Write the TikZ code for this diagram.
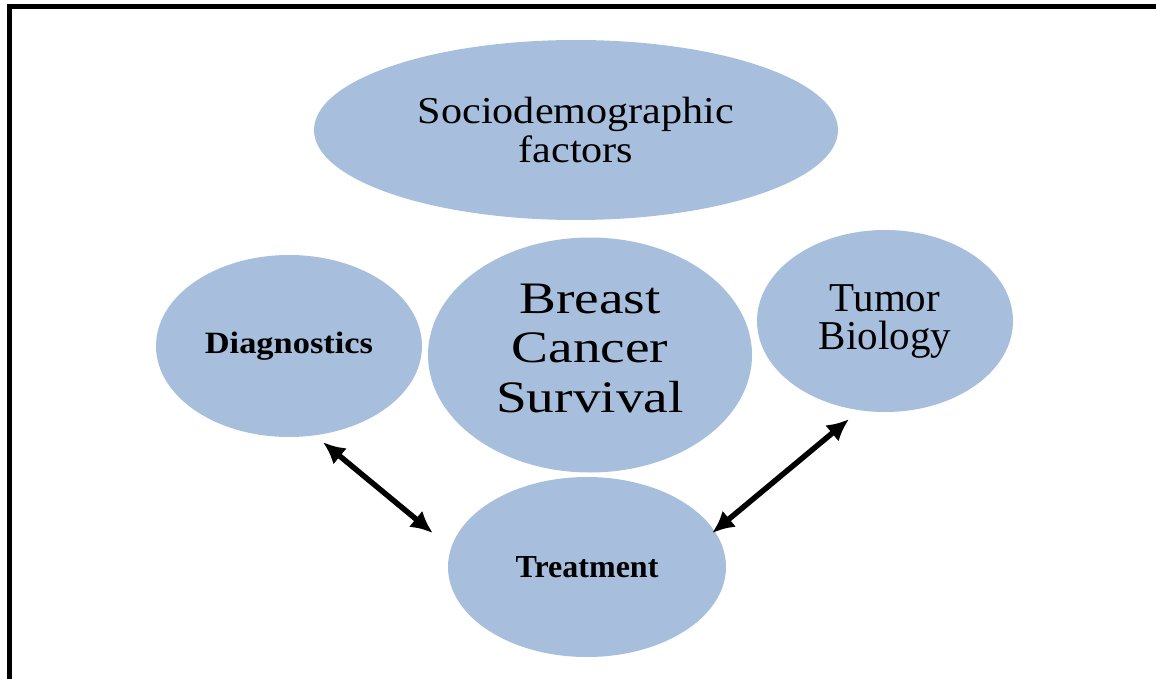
\documentclass[tikz,border=0pt]{standalone}
\usepackage{fontspec}
\setmainfont{Liberation Serif}
\newfontfamily\wideserif{Liberation Serif}[FakeStretch=1.23]
\newfontfamily\midserif{Liberation Serif}[FakeStretch=1.11]
\usetikzlibrary{shapes.geometric,arrows.meta}
\definecolor{bubblefill}{RGB}{167,191,221}

\begin{document}
\begin{tikzpicture}[x=1bp, y=-1bp]
    \tikzstyle{bubble}=[ellipse, fill=bubblefill, inner sep=0pt, align=center]
    \tikzstyle{darrs}=[line width=5.5bp, {Latex[length=22bp,width=21bp]}-{Latex[length=22bp,width=21bp]}]

    \clip (0,0) rectangle (1156,679);
    \draw[line width=4.5bp] (9.5,6.5) rectangle (1170,690);

    % factors around the centre
    \node[bubble, minimum width=524bp, minimum height=180bp,
          font={\midserif\fontsize{38bp}{39bp}\selectfont}] (socio) at (576,130)
        {Sociodemographic\\factors};
    \node[bubble, minimum width=324bp, minimum height=235bp, text depth=14bp,
          font={\wideserif\fontsize{45bp}{49.5bp}\selectfont}] (survival) at (590,355)
        {Breast\\Cancer\\Survival};
    \node[bubble, minimum width=266bp, minimum height=182bp,
          font={\midserif\bfseries\fontsize{31bp}{34bp}\selectfont}] (diag) at (289,346)
        {Diagnostics};
    \node[bubble, minimum width=256bp, minimum height=182bp,
          font={\fontsize{41bp}{38bp}\selectfont}] (tumor) at (885,321)
        {Tumor\\Biology};
    \node[bubble, minimum width=278bp, minimum height=180bp,
          font={\bfseries\fontsize{32bp}{34bp}\selectfont}] (treat) at (587,567)
        {Treatment};

    % arrow ends
    \coordinate (diag-tip) at ([shift={(34,5)}]diag.south);
    \coordinate (treat-left) at ([shift={(-15,-34)}]treat.west);
    \coordinate (tumor-tip) at ([shift={(-36,7)}]tumor.south);
    \coordinate (treat-right) at ([shift={(-14,-34)}]treat.east);

    \draw[darrs] (diag-tip) -- (treat-left);
    \draw[darrs] (tumor-tip) -- (treat-right);
\end{tikzpicture}
\end{document}
